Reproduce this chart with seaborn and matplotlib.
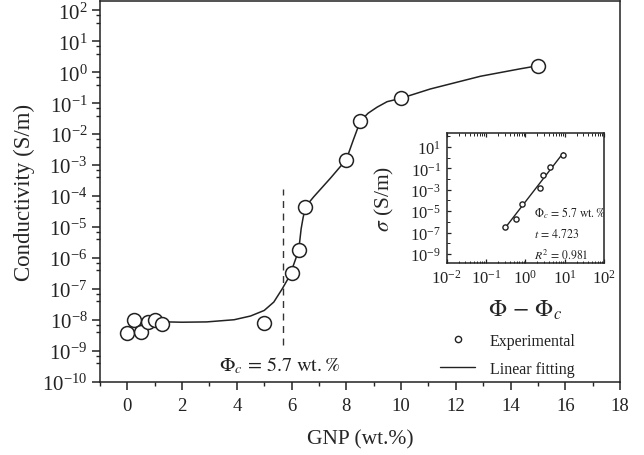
import numpy as np
import pandas as pd
import matplotlib
matplotlib.use("Agg")
import matplotlib.pyplot as plt
from matplotlib.lines import Line2D
from matplotlib.ticker import (LogLocator, NullFormatter, LogFormatterSciNotation,
                               MultipleLocator, FixedLocator)
import seaborn as sns

# ---------------- data ----------------
gnp_wt = [0.0, 0.25, 0.5, 0.75, 1.0, 1.27, 5.0, 6.0, 6.27, 6.5, 8.0, 8.5, 10.0, 15.0]
conductivity = [3.9e-9, 1.0e-8, 4.2e-9, 8.9e-9, 1.0e-8, 7.2e-9, 7.8e-9,
                3.4e-7, 1.8e-6, 4.5e-5, 1.5e-3, 2.6e-2, 0.145, 1.65]

# smooth guide curve
curve_x = [1.46, 2.0, 2.9, 3.9, 4.5, 5.0, 5.35, 5.66, 5.9, 5.98, 6.1, 6.26, 6.35,
           6.42, 6.51, 6.81, 7.42, 8.0, 8.25, 8.51, 8.8, 9.12, 9.49, 10.0, 11.07,
           12.9, 14.35, 15.0]
curve_log = [-8.06, -8.07, -8.06, -7.99, -7.87, -7.69, -7.42, -6.99, -6.62, -6.45,
             -6.15, -5.75, -5.05, -4.7, -4.34, -4.02, -3.42, -2.82, -2.2, -1.58,
             -1.32, -1.13, -0.95, -0.84, -0.54, -0.13, 0.11, 0.21]

phi_c = 5.7
inset_x = [0.3, 0.57, 0.8, 2.3, 2.8, 4.3, 9.3]           # Φ − Φc
inset_sigma = [3.4e-7, 1.8e-6, 4.5e-5, 1.5e-3, 2.6e-2, 0.145, 1.65]

main_xticks = [0, 2, 4, 6, 8, 10, 12, 14, 16, 18]

df_pts = pd.DataFrame({"x": gnp_wt, "y": conductivity})
df_curve = pd.DataFrame({"x": curve_x, "y": np.power(10.0, curve_log)})
df_in = pd.DataFrame({"x": inset_x, "y": inset_sigma})

# linear fit in log-log space
coef = np.polyfit(np.log10(inset_x), np.log10(inset_sigma), 1)
fit_x = np.array([min(inset_x), max(inset_x)])
df_fit = pd.DataFrame({"x": fit_x, "y": 10 ** np.polyval(coef, np.log10(fit_x))})

# ---------------- style ----------------
sns.set_theme(style="ticks")
plt.rcParams["font.family"] = ["Liberation Serif", "DejaVu Serif"]
plt.rcParams["mathtext.fontset"] = "stix"
plt.rcParams["axes.linewidth"] = 1.1
plt.rcParams["axes.edgecolor"] = "#222222"
plt.rcParams["text.color"] = "#222222"
plt.rcParams["xtick.color"] = "#222222"
plt.rcParams["ytick.color"] = "#222222"

fig = plt.figure(figsize=(6.44, 4.56), dpi=100)
ax = fig.add_axes([100 / 644, (456 - 383) / 456, 520 / 644, 381 / 456])

sns.lineplot(data=df_curve, x="x", y="y", ax=ax, color="#222222", lw=1.1,
             sort=False, estimator=None)
ax.plot([phi_c, phi_c], [1.6e-9, 1.7e-4], ls=(0, (5, 4)), color="#333333", lw=1.0)
sns.scatterplot(data=df_pts, x="x", y="y", ax=ax, s=100, facecolor="white",
                edgecolor="#222222", linewidth=1.1, zorder=5)

ax.set_yscale("log")
ax.set_xlim(-1, 18)
ax.set_ylim(1e-10, 10 ** 2.3)
ax.set_xticks(main_xticks)
ax.xaxis.set_minor_locator(MultipleLocator(1))
ax.yaxis.set_major_locator(LogLocator(base=10, numticks=20))
ax.yaxis.set_minor_locator(LogLocator(base=10, subs=(4.0, 7.0), numticks=20))
ax.yaxis.set_minor_formatter(NullFormatter())
ax.tick_params(axis="both", which="major", direction="out", length=6, width=1.1)
ax.tick_params(axis="x", which="major", labelsize=13.5, pad=5)
ax.tick_params(axis="y", which="major", labelsize=15, pad=3)
ax.tick_params(axis="both", which="minor", direction="out", length=3, width=1.0)
ax.set_xlabel("GNP (wt.%)", fontsize=15.5, labelpad=11)
ax.set_ylabel("Conductivity (S/m)", fontsize=16.5, labelpad=5)
for s in ax.spines.values():
    s.set_visible(True)

ax.text(5.57, 10 ** (-9.45), r"$\Phi_c\,=\,5.7\ \mathrm{wt.\%}$", ha="center",
        va="center", fontsize=14.5)

# ---------------- inset ----------------
axi = fig.add_axes([446.7 / 644, (456 - 264) / 456, 157.3 / 644, 130 / 456])
sns.lineplot(data=df_fit, x="x", y="y", ax=axi, color="#222222", lw=1.0,
             estimator=None)
sns.scatterplot(data=df_in, x="x", y="y", ax=axi, s=14, facecolor="white",
                edgecolor="#222222", linewidth=1.0, zorder=5)
axi.set_xscale("log")
axi.set_yscale("log")
axi.set_xlim(1e-2, 1e2)
axi.set_ylim(10 ** -9.85, 10 ** 2.3)
axi.xaxis.set_major_locator(LogLocator(base=10, numticks=10))
axi.xaxis.set_minor_locator(LogLocator(base=10, subs=np.arange(2, 10), numticks=10))
axi.xaxis.set_minor_formatter(NullFormatter())
axi.yaxis.set_major_locator(FixedLocator([10.0 ** e for e in range(-9, 2, 2)]))
axi.yaxis.set_major_formatter(LogFormatterSciNotation())
axi.yaxis.set_minor_locator(FixedLocator([10.0 ** e for e in range(-9, 3)]))
axi.yaxis.set_minor_formatter(NullFormatter())
axi.tick_params(axis="both", which="major", direction="in", length=3, width=0.9,
                labelsize=12, top=True, pad=4)
axi.tick_params(axis="both", which="minor", direction="in", length=1.8, width=0.7,
                top=True)
axi.set_xlabel(r"$\Phi\,-\,\Phi_c$", fontsize=17, labelpad=8)
axi.set_ylabel(r"$\sigma$ (S/m)", fontsize=15.5, labelpad=10)
for s in axi.spines.values():
    s.set_visible(True)
    s.set_linewidth(1.1)

tx = 534 / 644
fig.text(tx, 1 - 213 / 456, r"$\Phi_c\,=\,5.7\ \mathrm{wt.\%}$", fontsize=8.5, va="center")
fig.text(tx, 1 - 234 / 456, r"$t\,=\,4.723$", fontsize=8.5, va="center")
fig.text(tx, 1 - 255 / 456, r"$R^2\,=\,0.981$", fontsize=8.5, va="center")

# ---------------- legend ----------------
handles = [Line2D([], [], marker="o", ls="none", mfc="white", mec="#222222",
                  ms=4.5, mew=1.0),
           Line2D([], [], color="#222222", lw=1.0)]
ax.legend(handles, ["Experimental", "Linear fitting"], loc="upper left",
          bbox_to_anchor=(440 / 644, 1 - 334 / 456), bbox_transform=fig.transFigure,
          frameon=False, fontsize=11.5, handlelength=2.2, handletextpad=0.9,
          labelspacing=0.75, borderaxespad=0, borderpad=0)

fig.savefig("out.png", dpi=100)
